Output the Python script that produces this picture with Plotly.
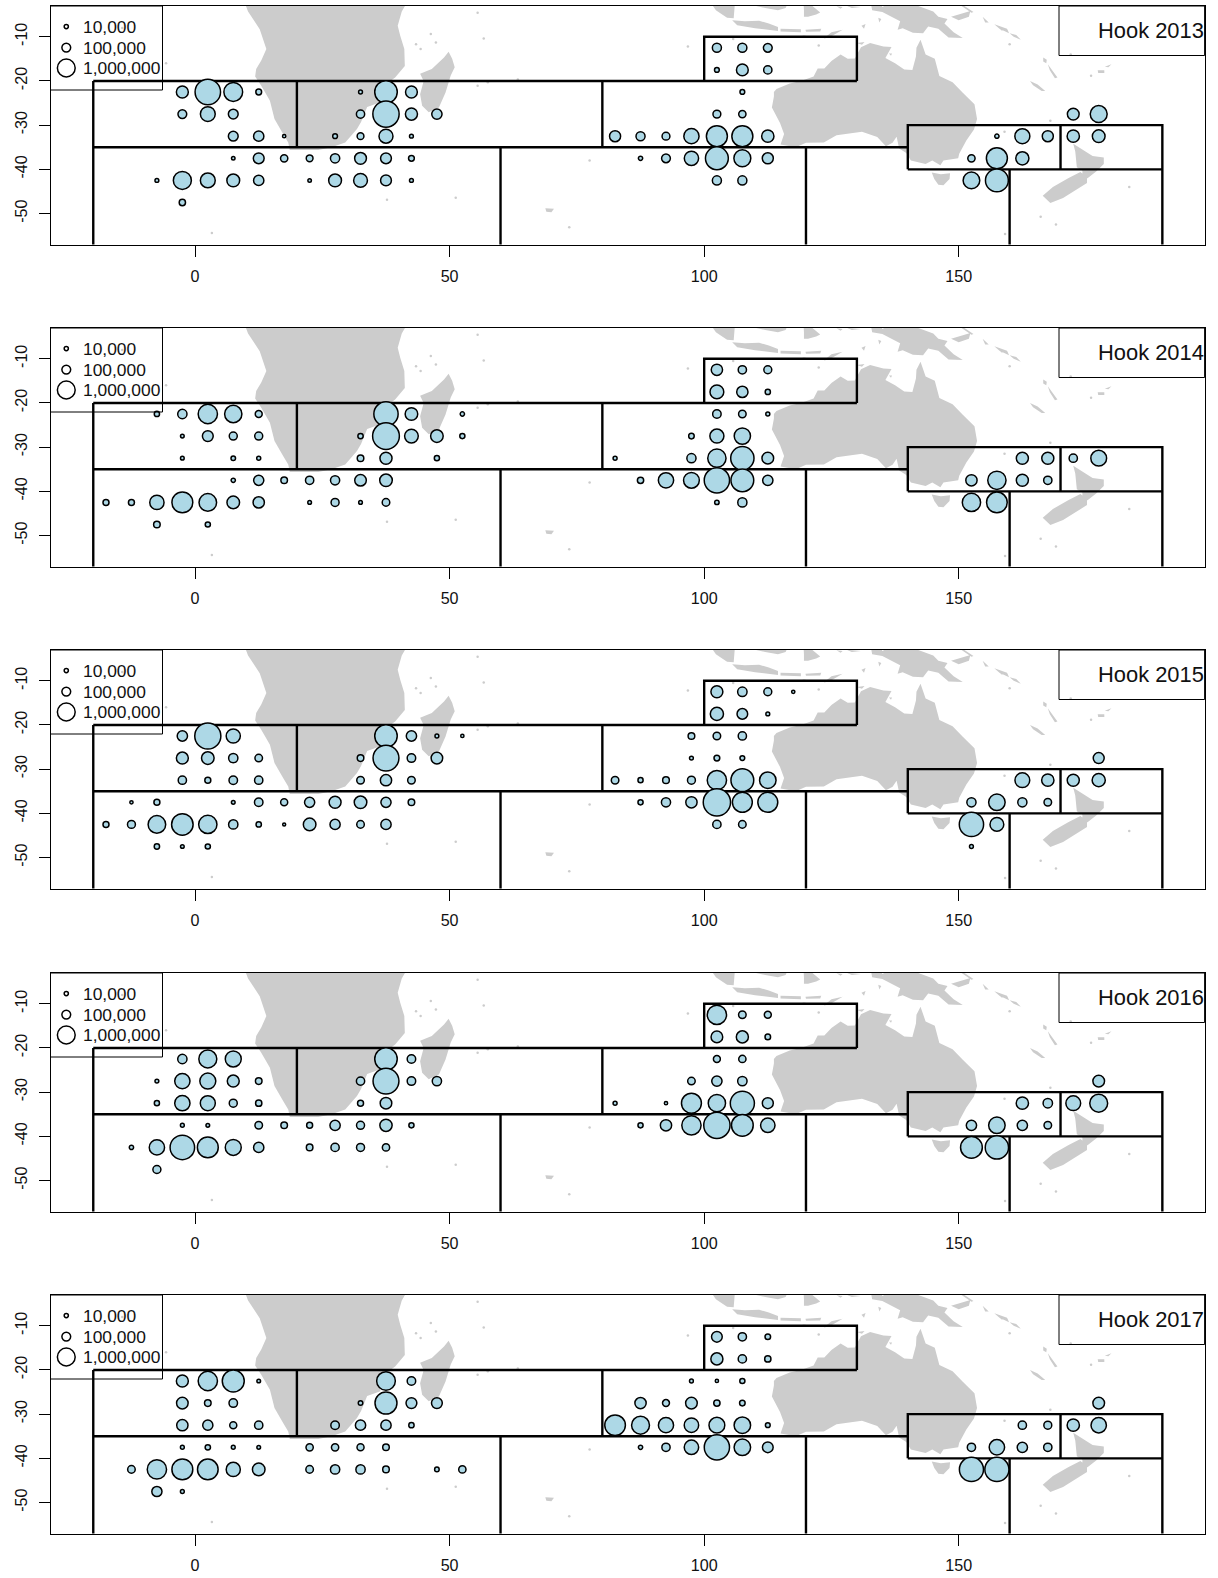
import plotly.graph_objects as go

# ---------- data ----------
years = [2013, 2014, 2015, 2016, 2017]
lat_rows = [-12.5, -17.5, -22.5, -27.5, -32.5, -37.5, -42.5, -47.5]

# hooks in thousands; one sub-list per latitude row
lon_2013 = [[102.5,107.5,112.5],
            [102.5,107.5,112.5],
            [-2.5,2.5,7.5,12.5,32.5,37.5,42.5,107.5],
            [-2.5,2.5,7.5,32.5,37.5,42.5,47.5,102.5,107.5,172.5,177.5],
            [7.5,12.5,17.5,27.5,32.5,37.5,42.5,82.5,87.5,92.5,97.5,102.5,107.5,112.5,157.5,162.5,167.5,172.5,177.5],
            [7.5,12.5,17.5,22.5,27.5,32.5,37.5,42.5,87.5,92.5,97.5,102.5,107.5,112.5,152.5,157.5,162.5],
            [-7.5,-2.5,2.5,7.5,12.5,22.5,27.5,32.5,37.5,42.5,102.5,107.5,152.5,157.5],
            [-2.5]]
hooks_2013 = [[110,110,100],
              [15,259,83],
              [270,3300,1200,27,8,2200,260,15],
              [100,550,142,83,3684,280,167,70,55,259,850],
              [142,167,5,15,44,450,8,210,110,70,600,1740,1740,296,11,570,210,296,330],
              [6,195,55,44,120,259,195,27,11,100,485,2300,850,210,55,1740,370],
              [8,1040,550,337,167,6,337,431,195,8,110,110,800,2300],
              [35]]

lon_2014 = [[102.5,107.5,112.5],
            [102.5,107.5,112.5],
            [-7.5,-2.5,2.5,7.5,12.5,37.5,42.5,52.5,102.5,107.5,112.5],
            [-2.5,2.5,7.5,12.5,32.5,37.5,42.5,47.5,52.5,97.5,102.5,107.5],
            [-2.5,7.5,12.5,32.5,37.5,47.5,82.5,97.5,102.5,107.5,112.5,162.5,167.5,172.5,177.5],
            [7.5,12.5,17.5,22.5,27.5,32.5,37.5,87.5,92.5,97.5,102.5,107.5,112.5,152.5,157.5,162.5,167.5],
            [-17.5,-12.5,-7.5,-2.5,2.5,7.5,12.5,22.5,27.5,32.5,37.5,102.5,107.5,152.5,157.5],
            [-7.5,2.5]]
hooks_2014 = [[225,83,72],
              [430,225,20],
              [20,120,1308,910,48,2823,320,11,90,62,9],
              [7,195,75,75,21,3900,420,320,19,24,460,747],
              [7,13,9,40,280,19,9,115,1096,2453,250,280,280,83,674],
              [11,160,40,83,115,245,320,35,606,674,3232,2280,167,225,1096,280,83],
              [30,30,485,1700,960,320,225,7,75,7,62,12,115,1096,1640],
              [40,19]]

lon_2015 = [[102.5,107.5,112.5,117.5],
            [102.5,107.5,112.5],
            [-2.5,2.5,7.5,37.5,42.5,47.5,52.5,97.5,102.5,107.5],
            [-2.5,2.5,7.5,12.5,32.5,37.5,42.5,47.5,97.5,102.5,107.5,177.5],
            [-2.5,2.5,7.5,12.5,32.5,37.5,42.5,82.5,87.5,92.5,97.5,102.5,107.5,112.5,162.5,167.5,172.5,177.5],
            [-12.5,-7.5,7.5,12.5,17.5,22.5,27.5,32.5,37.5,42.5,87.5,92.5,97.5,102.5,107.5,112.5,152.5,157.5,162.5,167.5],
            [-17.5,-12.5,-7.5,-2.5,2.5,7.5,12.5,17.5,22.5,27.5,32.5,37.5,102.5,107.5,152.5,157.5],
            [-7.5,-2.5,2.5,152.5]]
hooks_2015 = [[270,125,72,5],
              [370,185,8],
              [167,3600,470,2180,167,8,5,42,62,83],
              [270,320,120,62,40,3500,90,245,8,27,15,205],
              [83,30,90,83,62,225,62,62,19,42,72,1308,2280,780,543,296,280,370],
              [5,30,7,90,50,160,270,320,160,40,19,115,225,4175,1460,1460,115,780,115,62],
              [30,72,960,1880,1096,120,21,4,320,160,62,167,83,62,2823,431],
              [21,7,19,8]]

lon_2016 = [[102.5,107.5,112.5],
            [102.5,107.5,112.5],
            [-2.5,2.5,7.5,37.5,42.5,102.5,107.5],
            [-7.5,-2.5,2.5,7.5,12.5,32.5,37.5,42.5,47.5,97.5,102.5,107.5,177.5],
            [-7.5,-2.5,2.5,7.5,12.5,32.5,37.5,82.5,92.5,97.5,102.5,107.5,112.5,162.5,167.5,172.5,177.5],
            [-2.5,2.5,12.5,17.5,22.5,27.5,32.5,37.5,42.5,87.5,92.5,97.5,102.5,107.5,112.5,152.5,157.5,162.5,167.5],
            [-12.5,-7.5,-2.5,2.5,7.5,12.5,22.5,27.5,32.5,37.5,152.5,157.5],
            [-7.5]]
hooks_2016 = [[1308,62,48],
              [250,280,24],
              [120,1030,700,2180,90,48,55],
              [8,606,700,270,40,83,3500,90,120,62,167,125,250],
              [19,606,570,75,35,30,245,9,5,1460,910,2750,205,296,125,543,1020],
              [8,7,62,40,30,167,75,296,19,19,225,1308,3680,1950,500,167,780,167,62],
              [11,606,2900,1700,700,167,40,83,75,55,1950,2453],
              [75]]

lon_2017 = [[102.5,107.5,112.5],
            [102.5,107.5,112.5],
            [-2.5,2.5,7.5,12.5,37.5,42.5,97.5,102.5,107.5],
            [-2.5,2.5,7.5,32.5,37.5,42.5,47.5,87.5,92.5,97.5,102.5,107.5,177.5],
            [-2.5,2.5,7.5,12.5,27.5,32.5,37.5,42.5,82.5,87.5,92.5,97.5,102.5,107.5,112.5,162.5,167.5,172.5,177.5],
            [-2.5,2.5,7.5,12.5,22.5,27.5,32.5,37.5,87.5,92.5,97.5,102.5,107.5,112.5,152.5,157.5,162.5,167.5],
            [-12.5,-7.5,-2.5,2.5,7.5,12.5,22.5,27.5,32.5,37.5,47.5,52.5,152.5,157.5],
            [-7.5,-2.5]]
hooks_2017 = [[190,83,24],
              [280,83,35],
              [270,1308,2020,7,1180,90,8,5,19],
              [245,40,90,13,2020,195,195,225,48,250,35,24,250],
              [225,160,50,83,90,167,167,21,1630,1020,590,500,674,780,15,83,72,296,620],
              [8,21,8,7,55,55,50,40,11,83,500,3200,780,190,83,620,167,83],
              [62,1308,1700,1630,470,320,62,120,120,40,13,55,2750,2750],
              [160,8]]

lon_by_year = [lon_2013, lon_2014, lon_2015, lon_2016, lon_2017]
hooks_by_year = [hooks_2013, hooks_2014, hooks_2015, hooks_2016, hooks_2017]

legend_hooks = [10, 100, 1000]
legend_labels = ["10,000", "100,000", "1,000,000"]
x_ticks = [0, 50, 100, 150]
x_tick_text = ["0", "50", "100", "150"]
y_ticks = [-10, -20, -30, -40, -50]
y_tick_text = ["-10", "-20", "-30", "-40", "-50"]

# region boundaries (lon, lat segments)
BOTTOM = -60
region_segments = [
    [(-20, -20), (130, -20)],
    [(-20, -35), (140, -35)],
    [(-20, -20), (-20, BOTTOM)],
    [(20, -20), (20, -35)],
    [(80, -20), (80, -35)],
    [(60, -35), (60, BOTTOM)],
    [(120, -35), (120, BOTTOM)],
    [(100, -20), (100, -10), (130, -10), (130, -20)],
    [(140, -40), (140, -30), (190, -30), (190, BOTTOM)],
    [(140, -40), (190, -40)],
    [(170, -30), (170, -40)],
    [(160, -40), (160, BOTTOM)],
]

# land outlines (lon, lat)
land_polygons = [
    # Africa
    [(9.5,-1.5),(10.4,-4.3),(12.7,-8.3),(13.3,-10.2),(14,-12.8),(13,-15.4),(12,-17.3),(11.8,-19),(13,-21.1),
     (14.7,-24.5),(15.6,-28.6),(17.3,-32),(18.3,-33.9),(18.6,-35.6),(24.2,-35.6),(26.8,-35),(29.5,-33.9),(31.8,-30.9),
     (32.6,-29.3),(33.8,-25.9),(36.4,-24.8),(36.2,-21.8),(39.3,-19.2),(41.2,-16.6),(41.1,-12.8),(40.3,-9.8),(39.8,-7.5),(40.6,-4.3),(42,-1.5)],
    # Madagascar
    [(49.8,-13.4),(50.5,-15),(51,-16.9),(50.2,-18.8),(49.2,-22.6),(47.9,-26),(45.9,-27.1),(44.6,-25.6),(44.2,-23),(44.9,-20),(44.2,-18.4),(46.5,-17.3),(48.9,-14.7)],
    # Australia
    [(113.7,-22.5),(114.2,-21.8),(116.8,-20.6),(119,-20),(121.5,-19),(122.3,-17.2),(123.6,-17.2),(125,-15.5),(126.8,-14),(128.2,-15),(129.6,-14.9),
     (130.8,-12.4),(132.6,-11.4),(135.2,-12.2),(136.8,-12.3),(135.6,-14.8),(137.5,-16),(139.3,-17.4),(140.9,-17.5),(141.6,-14.5),(141.7,-12.5),(142.5,-10.7),
     (143.5,-14),(145.3,-15),(146.2,-18.9),(148.8,-20.3),(150.8,-22.7),(153.1,-25.3),(153.6,-28.6),(153,-31),(151.5,-33.5),(150.1,-36.5),(149.9,-37.5),
     (147,-38),(146.4,-39.1),(144.8,-38),(143.5,-38.8),(140.6,-38),(139.7,-36.3),(138.3,-35.3),(137.8,-32.6),(137,-34),(135.7,-34.8),(134,-32.7),(131,-31.5),
     (126,-32.3),(123.5,-33.9),(120,-34),(118,-35),(115,-34.4),(115.7,-32),(114.9,-29.5),(113.3,-26),(113.7,-23.5)],
    # Tasmania
    [(144.7,-40.7),(146.5,-41.1),(148.3,-40.9),(148.2,-42.2),(147,-43.6),(146,-43.5),(145.2,-42.2)],
    # New Zealand north
    [(172.5,-34.2),(175,-36),(176.3,-37),(178.5,-37.3),(178.5,-38.8),(177,-40.5),(175.3,-42),(174.3,-41.5),(174.3,-40.3),(173.2,-39.5),(173,-37.7),(172.9,-36)],
    # New Zealand south
    [(173.9,-40.6),(175.2,-41.8),(175.2,-43.1),(172.5,-45),(170.5,-46.5),(168,-47.6),(166.5,-46),(168.5,-44),(171.5,-42)],
    # New Guinea
    [(131,-0.8),(134,-0.8),(135,-3.3),(137.8,-1.5),(141,-2.6),(145,-4.3),(146,-5.5),(147.8,-6),(147.2,-7),(149,-9),(150.8,-10.3),(148,-10.2),(146,-8.2),
     (144,-7.7),(143,-9.2),(141,-9.1),(139,-8.1),(138,-8.4),(138.5,-6.5),(135,-4.4),(133,-4),(132.8,-2.8),(131.3,-1.5)],
    # New Britain, New Ireland, Bougainville, Solomons
    [(148.5,-5.5),(152.3,-4.2),(152,-5.5),(150,-6.3)],
    [(150.8,-2.8),(152.9,-4.4),(152.5,-4.6),(150.5,-3)],
    [(154.7,-5.5),(155.9,-6.8),(155.2,-6.8)],
    [(157,-7.2),(159.5,-8.2),(159.9,-9.2),(158,-8.2)],
    [(160,-9.2),(161.3,-9.6),(162.2,-10.7),(160.8,-10)],
    # Vanuatu, New Caledonia, Fiji
    [(166.6,-14.7),(167.3,-15.2),(167.2,-16),(166.6,-15.6)],
    [(167.5,-16.2),(168.4,-17.5),(169.4,-19.2),(168.9,-19.4),(167.9,-17.6)],
    [(164,-20),(165.5,-20.8),(167,-22.3),(166.3,-22.3),(164.6,-21)],
    [(177.3,-17.6),(178.6,-17.6),(178.6,-18.2),(177.4,-18.2)],
    [(178.7,-16.8),(180,-16.2),(179.4,-16.9)],
    # Indonesia
    [(105.5,-6.3),(108,-6.5),(110.8,-6.4),(112.7,-7),(114.5,-7.8),(114.5,-8.7),(110,-8.1),(106.5,-7.4)],
    [(100.5,-1),(103,-1),(106,-3),(105.8,-5.8),(104.5,-5.7),(102.3,-4)],
    [(115,-8.2),(119,-8.3),(119,-9),(115,-8.8)],
    [(119.9,-8.4),(123,-8.2),(122.8,-8.8),(120,-8.9)],
    [(119.2,-9.6),(120.8,-10),(120.2,-10.2)],
    [(123.5,-10.4),(125,-9),(127.2,-8.4),(125,-9.9),(124,-10.3)],
    [(119.5,-2),(121,-2.8),(122.8,-4.5),(122,-5),(120.4,-5.5),(119.6,-5.5),(119.6,-4)],
    [(109.5,-1),(110,-3),(112,-3.5),(114.5,-4),(116,-3.5),(117,-1)],
    [(128,-3),(130.8,-3.3),(129,-3.5)],
    [(126,-3.1),(127.2,-3.3),(126.8,-3.7)],
    [(130.9,-7.5),(131.7,-7.1),(131.4,-8.2)],
    [(134.2,-5.7),(134.8,-6),(134.4,-6.8)],
    [(130,-11.4),(131.5,-11.2),(131,-11.8)],
    [(136.3,-13.8),(136.9,-13.8),(136.7,-14.3)],
    # Kerguelen
    [(68.8,-48.8),(70.5,-48.9),(70,-49.7),(69,-49.6)],
]
small_island_lon = [55.5, 57.5, 43.4, 44.3, 55.5, 46.3, 47.3, 51.2, 37.7, 73.5, 77.5, 3.3, -5.7, -14.3, 63.4, 56.7, 159.1, 166.1, 169.1, 168, 159, 183.5, 176, 172, 158.5, 160, 96.8, 105.7, 122.5]
small_island_lat = [-21.1, -20.3, -11.7, -12.8, -4.6, -9.4, -11.3, -46.4, -46.9, -53.1, -38, -54.4, -16, -8, -19.7, -10.4, -54.6, -50.7, -52.5, -29, -31.5, -44, -18.8, -14, -8.3, -11.7, -12.2, -10.5, -12]

# ---------- style and layout constants ----------
W, H = 1218, 1578
PANEL_TOPS = [6, 328, 650, 973, 1295]
PANEL_H = 238.5
LEFT, RIGHT = 50.5, 1204.6
X_RANGE = [-28.4, 198.3]
Y_RANGE = [-57.0, -3.05]
LAND = "#CCCCCC"
BUBBLE = "#ADD8E6"
STROKE = 1.5


def marker_px(thousands):
    outer = 18.5 * (thousands / 1000.0) ** 0.29 + 0.8
    return outer - STROKE


def join_parts(parts, idx):
    out = []
    for part in parts:
        out += [p[idx] for p in part] + [None]
    return out


fig = go.Figure()
shapes, annotations = [], []
layout_axes = {}

for i, year in enumerate(years):
    n = "" if i == 0 else str(i + 1)
    xref, yref = f"x{n}", f"y{n}"
    top = PANEL_TOPS[i]
    layout_axes[f"xaxis{n}"] = dict(
        domain=[LEFT / W, RIGHT / W], range=X_RANGE, anchor=yref, tickmode="array",
        tickvals=x_ticks, ticktext=x_tick_text, ticks="outside", ticklen=11, tickwidth=1,
        tickcolor="black", showline=True, linecolor="black", linewidth=1, mirror=True,
        showgrid=False, zeroline=False, layer="below traces", ticklabelstandoff=6,
        tickfont=dict(family="Liberation Sans", size=16.1, color="#111"))
    layout_axes[f"yaxis{n}"] = dict(
        domain=[1 - (top + PANEL_H) / H, 1 - top / H], range=Y_RANGE, anchor=xref, tickmode="array",
        tickvals=y_ticks, ticktext=y_tick_text, tickangle=-90, ticks="outside", ticklen=11, tickwidth=1,
        tickcolor="black", showline=True, linecolor="black", linewidth=1, mirror=True,
        showgrid=False, zeroline=False, layer="below traces", ticklabelstandoff=5,
        tickfont=dict(family="Liberation Sans", size=16.1, color="#111"))

    # land
    fig.add_trace(go.Scatter(x=join_parts(land_polygons, 0), y=join_parts(land_polygons, 1), mode="lines",
                             fill="toself", fillcolor=LAND, line=dict(width=0, color=LAND),
                             hoverinfo="skip", showlegend=False, xaxis=xref, yaxis=yref))
    fig.add_trace(go.Scatter(x=small_island_lon, y=small_island_lat, mode="markers",
                             marker=dict(size=2.5, color=LAND, line=dict(width=0)),
                             hoverinfo="skip", showlegend=False, xaxis=xref, yaxis=yref))
    # regions
    fig.add_trace(go.Scatter(x=join_parts(region_segments, 0), y=join_parts(region_segments, 1), mode="lines",
                             line=dict(color="black", width=2.4), hoverinfo="skip", showlegend=False,
                             xaxis=xref, yaxis=yref))
    # bubbles
    lons, lats, vals = [], [], []
    for lat, row_lon, row_val in zip(lat_rows, lon_by_year[i], hooks_by_year[i]):
        lons += row_lon
        lats += [lat] * len(row_lon)
        vals += row_val
    fig.add_trace(go.Scatter(x=lons, y=lats, mode="markers", name=f"Hook {year}",
                             marker=dict(size=[marker_px(v) for v in vals], color=BUBBLE, opacity=1,
                                         line=dict(color="black", width=STROKE)),
                             showlegend=False, xaxis=xref, yaxis=yref))
    # legend keys
    key_lat = [Y_RANGE[1] - d / 4.42 for d in (20.6, 41.6, 62)]
    fig.add_trace(go.Scatter(x=[-25.3] * 3, y=key_lat, mode="markers",
                             marker=dict(size=[marker_px(v) for v in legend_hooks], color="rgba(0,0,0,0)", opacity=1,
                                         line=dict(color="black", width=STROKE)),
                             hoverinfo="skip", showlegend=False, xaxis=xref, yaxis=yref))
    for lab, la in zip(legend_labels, key_lat):
        annotations.append(dict(x=-22.1, y=la, xref=xref, yref=yref, text=lab, showarrow=False, xanchor="left",
                                yanchor="middle", xshift=-2, font=dict(family="Liberation Sans", size=17.4, color="#111")))
    # legend box and year box
    shapes.append(dict(type="rect", xref=f"{xref} domain", yref=f"{yref} domain", x0=0, x1=112 / (RIGHT - LEFT),
                       y0=1 - 84 / PANEL_H, y1=1, line=dict(color="black", width=1), layer="above"))
    shapes.append(dict(type="rect", xref=f"{xref} domain", yref=f"{yref} domain", x0=(1059 - LEFT) / (RIGHT - LEFT), x1=1,
                       y0=1 - 49.5 / PANEL_H, y1=1, line=dict(color="black", width=1), layer="above"))
    annotations.append(dict(x=1, y=1 - 24.5 / PANEL_H, xref=f"{xref} domain", yref=f"{yref} domain", text=f"Hook {year}",
                            showarrow=False, xanchor="right", yanchor="middle", xshift=1,
                            font=dict(family="Liberation Sans", size=21.9, color="#111")))

fig.update_layout(width=W, height=H, margin=dict(l=0, r=0, t=0, b=0), paper_bgcolor="white", plot_bgcolor="white",
                  showlegend=False, shapes=shapes, annotations=annotations, **layout_axes)
page_fix = ("document.documentElement.style.cssText='margin:0;padding:0;overflow:hidden;height:1578px;width:1218px';"
            "document.body.style.cssText='margin:0;padding:0;overflow:hidden;height:1578px;width:1218px';")
fig.write_html("out.html", config={"displayModeBar": False}, post_script=page_fix)
